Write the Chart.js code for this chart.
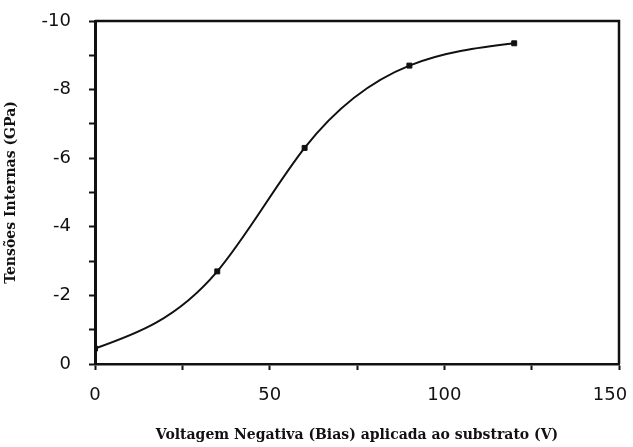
<!DOCTYPE html>
<html>
<head>
<meta charset="utf-8">
<script src="https://cdn.jsdelivr.net/npm/chart.js@4.4.1/dist/chart.umd.min.js"></script>
<style>
  html, body { margin: 0; padding: 0; background: #fff; }
  #wrap { width: 633px; height: 447px; }
</style>
</head>
<body>
<div id="wrap"><canvas id="stressChart"></canvas></div>
<script>
// bias voltage (V) and internal stress (GPa)
var biasVolts = [0, 35, 60, 90, 120];
var stressGPa = [-0.45, -2.7, -6.3, -8.7, -9.35];

var xTickLabels = [0, 50, 100, 150];
var yTickLabels = [-10, -8, -6, -4, -2, 0];

var xTitle = 'Voltagem Negativa (Bias) aplicada ao substrato (V)';
var yTitle = 'Tensões Internas (GPa)';

var points = biasVolts.map(function (v, i) { return { x: v, y: stressGPa[i] }; });

// node slopes of a natural cubic spline through (xs, ys)
function splineSlopes(xs, ys) {
    var n = xs.length, h = [], s = [], M = [], bp = [], dp = [], m = [];
    for (var i = 0; i < n - 1; i++) {
        h[i] = xs[i + 1] - xs[i];
        s[i] = (ys[i + 1] - ys[i]) / h[i];
    }
    for (i = 1; i < n - 1; i++) {
        var b = 2 * (h[i - 1] + h[i]);
        var d = 6 * (s[i] - s[i - 1]);
        if (i > 1) {
            var w = h[i - 1] / bp[i - 1];
            b -= w * h[i - 1];
            d -= w * dp[i - 1];
        }
        bp[i] = b;
        dp[i] = d;
    }
    M[0] = 0;
    M[n - 1] = 0;
    for (i = n - 2; i >= 1; i--) {
        M[i] = (dp[i] - (i < n - 2 ? h[i] * M[i + 1] : 0)) / bp[i];
    }
    for (i = 0; i < n - 1; i++) m[i] = s[i] - h[i] * (2 * M[i] + M[i + 1]) / 6;
    m[n - 1] = s[n - 2] + h[n - 2] * (M[n - 2] + 2 * M[n - 1]) / 6;
    return m;
}

// smooth curve through the measured points, drawn on the chart's scales
var smoothCurve = {
    id: 'smoothCurve',
    beforeDatasetsDraw: function (chart) {
        var xs = chart.scales.x, ys = chart.scales.y, ctx = chart.ctx;
        var m = splineSlopes(biasVolts, stressGPa);
        var px = function (v) { return xs.getPixelForValue(v); };
        var py = function (v) { return ys.getPixelForValue(v); };
        ctx.save();
        ctx.strokeStyle = '#111';
        ctx.lineWidth = 2;
        ctx.beginPath();
        ctx.moveTo(px(biasVolts[0]), py(stressGPa[0]));
        for (var i = 0; i < biasVolts.length - 1; i++) {
            var x0 = biasVolts[i], x1 = biasVolts[i + 1];
            var y0 = stressGPa[i], y1 = stressGPa[i + 1];
            var h = (x1 - x0) / 3;
            ctx.bezierCurveTo(px(x0 + h), py(y0 + m[i] * h),
                px(x1 - h), py(y1 - m[i + 1] * h),
                px(x1), py(y1));
        }
        ctx.stroke();
        ctx.restore();
    }
};

// closes the box on the top and right sides
var frameBox = {
    id: 'frameBox',
    afterDraw: function (chart) {
        var a = chart.chartArea;
        var ctx = chart.ctx;
        ctx.save();
        ctx.strokeStyle = '#111';
        ctx.lineWidth = 2.5;
        ctx.beginPath();
        ctx.moveTo(a.left, a.top);
        ctx.lineTo(a.right, a.top);
        ctx.lineTo(a.right, a.bottom);
        ctx.stroke();
        ctx.restore();
    }
};

var tickFont = { family: 'DejaVu Sans', size: 18 };
var titleFont = { family: 'DejaVu Serif', size: 14, weight: 'bold' };

var ctx = document.getElementById('stressChart').getContext('2d');
new Chart(ctx, {
    type: 'scatter',
    data: {
        datasets: [{
            data: points,
            showLine: false,
            pointStyle: 'rect',
            pointRadius: 3.5,
            pointBackgroundColor: '#111',
            pointBorderColor: '#111',
            pointBorderWidth: 1
        }]
    },
    options: {
        responsive: true,
        maintainAspectRatio: false,
        animation: false,
        layout: { padding: { top: 21, right: 14, left: 0, bottom: 0 } },
        plugins: {
            legend: { display: false },
            tooltip: { enabled: false }
        },
        scales: {
            x: {
                type: 'linear',
                min: 0,
                max: 150,
                afterFit: function (scale) {
                    scale.height = 83;
                    scale.paddingRight = 0;
                },
                border: { display: true, color: '#111', width: 2.5 },
                grid: { drawOnChartArea: false, drawTicks: true, tickLength: 6, tickColor: '#111', tickWidth: 2 },
                ticks: {
                    stepSize: 25,
                    color: '#111',
                    font: tickFont,
                    padding: 15,
                    maxRotation: 0,
                    callback: function (v) {
                        if (xTickLabels.indexOf(v) < 0) return '';
                        // last label nudged inward so it stays on the canvas
                        return v === 150 ? '150\u2002\u2002' : String(v);
                    }
                },
                title: { display: true, text: xTitle, color: '#111', font: titleFont, padding: { top: 0, bottom: 3 } }
            },
            y: {
                type: 'linear',
                min: -10,
                max: 0,
                reverse: true,
                afterFit: function (scale) {
                    scale.width = 95;
                    scale.paddingTop = 0;
                    scale.paddingBottom = 0;
                },
                border: { display: true, color: '#111', width: 3 },
                grid: { drawOnChartArea: false, drawTicks: true, tickLength: 6, tickColor: '#111', tickWidth: 2 },
                ticks: {
                    stepSize: 1,
                    color: '#111',
                    font: tickFont,
                    padding: 18,
                    callback: function (v) { return yTickLabels.indexOf(v) >= 0 ? String(v) : ''; }
                },
                title: { display: true, text: yTitle, color: '#111', font: titleFont, padding: { top: 3, bottom: 0 } }
            }
        }
    },
    plugins: [smoothCurve, frameBox]
});
</script>
</body>
</html>
